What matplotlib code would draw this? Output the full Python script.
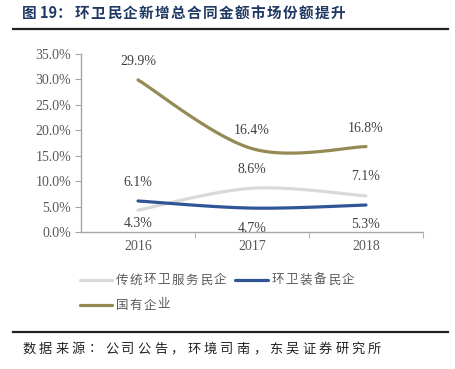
import numpy as np
import matplotlib
matplotlib.use("Agg")
import matplotlib.pyplot as plt
from matplotlib.lines import Line2D

years = ["2016", "2017", "2018"]
service = [4.3, 8.6, 7.1]
equipment = [6.1, 4.7, 5.3]
state = [29.9, 16.4, 16.8]
names = ["传统环卫服务民企", "环卫装备民企", "国有企业"]
colors = ["#D9D9D9", "#2F5597", "#948A54"]
yticks = [0, 5, 10, 15, 20, 25, 30, 35]

def smooth(x, y, n=40):
    x = np.asarray(x, float); y = np.asarray(y, float)
    px = np.concatenate([[x[0]], x, [x[-1]]])
    py = np.concatenate([[y[0]], y, [y[-1]]])
    xs, ys = [], []
    for i in range(1, len(px) - 2):
        p0 = np.array([px[i-1], py[i-1]]); p1 = np.array([px[i], py[i]])
        p2 = np.array([px[i+1], py[i+1]]); p3 = np.array([px[i+2], py[i+2]])
        c1 = p1 + (p2 - p0) / 6.0
        c2 = p2 - (p3 - p1) / 6.0
        t = np.linspace(0, 1, n)[:, None]
        b = (1-t)**3*p1 + 3*(1-t)**2*t*c1 + 3*(1-t)*t**2*c2 + t**3*p2
        xs.extend(b[:, 0]); ys.extend(b[:, 1])
    return np.array(xs), np.array(ys)

cjk = ["Noto Sans CJK SC", "DejaVu Sans"]
serif = ["Liberation Serif", "DejaVu Serif"]
tc = "#595959"
W, H = 455, 369

fig = plt.figure(figsize=(4.55, 3.69), dpi=100)

def spaced(x0, y, s, adv, **kw):
    for i, ch in enumerate(s):
        fig.text((x0 + adv / 2 + i * adv) / W, 1 - y / H, ch, ha="center", va="center", **kw)

ax = fig.add_axes([81/W, 1-232/H, (423-81)/W, (232-54)/H])
x = np.arange(len(years))
series = [service, equipment, state]
for vals, c in zip(series, colors):
    sx, sy = smooth(x, vals)
    ax.plot(sx, sy, color=c, lw=2.3, solid_capstyle="round")

ax.set_xlim(-0.5, 2.5)
ax.set_ylim(0, 35)
ax.set_yticks(yticks)
ax.set_yticklabels([f"{v:.1f}%" for v in yticks], fontfamily=serif, fontsize=10, color=tc)
ax.set_xticks(x)
ax.set_xticklabels(years, fontfamily=serif, fontsize=10, color=tc)
ax.set_xticks([0.5, 1.5, 2.5], minor=True)
ax.tick_params(axis="x", which="major", length=0, pad=6)
ax.tick_params(axis="x", which="minor", length=4, color="#A6A6A6")
ax.tick_params(axis="y", length=4, color="#A6A6A6", pad=3)
for s in ["top", "right"]:
    ax.spines[s].set_visible(False)
for s in ["left", "bottom"]:
    ax.spines[s].set_color("#A6A6A6")
    ax.spines[s].set_linewidth(1)

# label centre offsets in pixels (negative = above the point)
offs = [[13, -19, -19], [-18, 20, 19], [-18, -18, -18]]
for vals, off in zip(series, offs):
    for i, v in enumerate(vals):
        ax.annotate(f"{v:.1f}%", (i, v), xytext=(0, -off[i] * 0.72), textcoords="offset points",
                    ha="center", va="center",
                    fontfamily=serif, fontsize=10, color="#404040")

# legend (manual, to reproduce character spacing)
leg_items = [(80, 112, 115, 280, 0), (235, 268, 271, 280, 1), (80, 112, 115, 305, 2)]
for xa, xb, xt, yy, k in leg_items:
    fig.add_artist(Line2D([xa/W, xb/W], [1-yy/H, 1-yy/H], color=colors[k], lw=2.3,
                          solid_capstyle="round"))
    spaced(xt, yy, names[k], 14, fontfamily=cjk, fontsize=9, color=tc)

fig.text(22/W, 1-13/H, "图 19：", fontfamily=cjk, fontsize=10.5, fontweight="bold",
         color="#1F3864", va="center", ha="left")
spaced(74, 13, "环卫民企新增总合同金额市场份额提升", 16.0, fontfamily=cjk, fontsize=10.5,
       fontweight="bold", color="#1F3864")
fig.add_artist(Line2D([13/W, 448/W], [1-29/H, 1-29/H], color="#222222", lw=1.6))
fig.add_artist(Line2D([13/W, 448/W], [1-332/H, 1-332/H], color="#222222", lw=1.6))
spaced(21, 349, "数据来源：公司公告，环境司南，东吴证券研究所", 16.45, fontfamily=cjk,
       fontsize=9.5, color="#222222")

fig.savefig("out.png", dpi=100)
